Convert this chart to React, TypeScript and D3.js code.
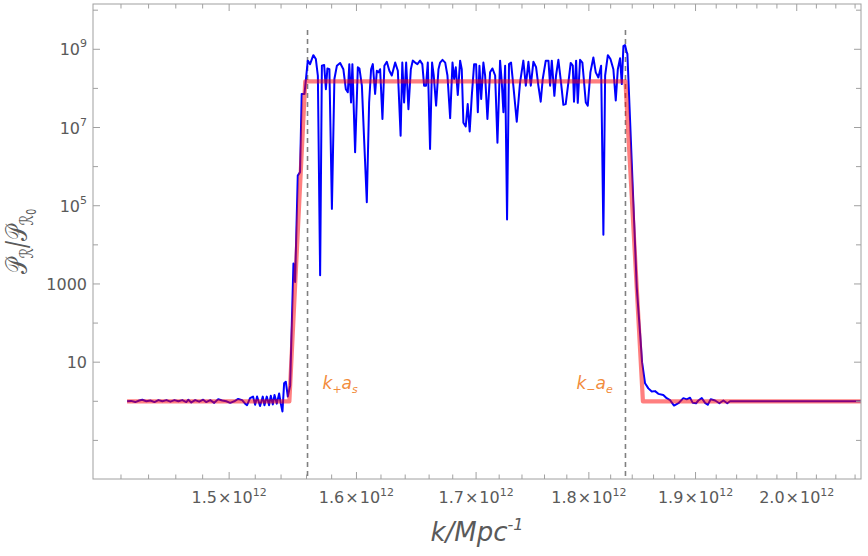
import React from "react";
import * as d3 from "d3";

const W = 868;
const H = 556;
const FRAME = { left: 93, right: 861, top: 4, bottom: 479 };

// k in units of 10^12 Mpc^-1
const kDomain12 = [1.4, 2.0662];
// log10 of P_R / P_R0
const logPDomain = [-1.987, 10.158];

const xMajor12 = [1.5, 1.6, 1.7, 1.8, 1.9, 2.0];
const xMinor12 = [1.42, 1.44, 1.46, 1.48, 1.52, 1.54, 1.56, 1.58, 1.62, 1.64, 1.66, 1.68, 1.72, 1.74, 1.76, 1.78, 1.82, 1.84, 1.86, 1.88, 1.92, 1.94, 1.96, 1.98, 2.02, 2.04, 2.06];
const yTickExp = [-1, 0, 1, 2, 3, 4, 5, 6, 7, 8, 9, 10];
const yLabelExp = [1, 3, 5, 7, 9];

const kPlusAs12 = 1.5608;
const kMinusAe12 = 1.8337;

const redK12 = [1.4244, 1.5465, 1.559, 1.8337, 1.85, 2.0662];
const redLogP = [0, 0, 8.18, 8.18, 0, 0];

const blueK12 = [
  1.4244, 1.4273, 1.4303, 1.4332, 1.4354, 1.4384, 1.4413, 1.4443, 1.4472, 1.4501,
  1.4531, 1.456, 1.459, 1.4619, 1.4648, 1.4678, 1.4693, 1.4715, 1.4744, 1.4774,
  1.4804, 1.4826, 1.4857, 1.4887, 1.4917, 1.4948, 1.4978, 1.5008, 1.5039, 1.5069,
  1.5099, 1.5122, 1.5137, 1.516, 1.5183, 1.5199, 1.5214, 1.5237, 1.5258, 1.5271,
  1.5289, 1.5307, 1.532, 1.5336, 1.5349, 1.5367, 1.5385, 1.5398, 1.5411, 1.5424,
  1.5437, 1.5453, 1.5471, 1.5497, 1.551, 1.5531, 1.5549, 1.5562, 1.5584, 1.561,
  1.5628, 1.5654, 1.5674, 1.569, 1.5708, 1.5722, 1.574, 1.5754, 1.5766, 1.5782,
  1.5802, 1.5822, 1.5842, 1.5868, 1.5894, 1.5914, 1.593, 1.5942, 1.5956, 1.5967,
  1.5989, 1.6011, 1.6024, 1.6044, 1.6062, 1.6084, 1.6103, 1.6119, 1.6133, 1.6152,
  1.6166, 1.6179, 1.6193, 1.6212, 1.6228, 1.6248, 1.6269, 1.6289, 1.6317, 1.6339,
  1.6362, 1.6376, 1.6391, 1.6408, 1.6427, 1.6447, 1.6463, 1.6483, 1.6502, 1.6524,
  1.6543, 1.6558, 1.6574, 1.6589, 1.6608, 1.6625, 1.6639, 1.6659, 1.6679, 1.6693,
  1.6713, 1.6736, 1.6755, 1.6778, 1.6798, 1.6812, 1.6826, 1.6843, 1.6863, 1.6877,
  1.6891, 1.6911, 1.6928, 1.6945, 1.6963, 1.6983, 1.7, 1.7015, 1.7029, 1.7044,
  1.7063, 1.7078, 1.7098, 1.7121, 1.7141, 1.7165, 1.7185, 1.7208, 1.7223, 1.7237,
  1.7252, 1.7269, 1.7286, 1.7304, 1.7324, 1.7354, 1.7383, 1.7412, 1.7434, 1.7457,
  1.7478, 1.7501, 1.7525, 1.7545, 1.7566, 1.7584, 1.7611, 1.7635, 1.765, 1.7665,
  1.7688, 1.7703, 1.7724, 1.7748, 1.7769, 1.779, 1.7814, 1.7835, 1.7854, 1.7865,
  1.7884, 1.7899, 1.792, 1.7941, 1.7972, 1.799, 1.8014, 1.8041, 1.8063, 1.8087,
  1.8112, 1.8133, 1.8149, 1.8174, 1.8198, 1.8225, 1.8247, 1.8266, 1.8287, 1.8303,
  1.8318, 1.8333, 1.8349, 1.8355, 1.838, 1.8411, 1.8442, 1.8473, 1.8492, 1.852,
  1.8551, 1.8583, 1.8614, 1.8645, 1.8692, 1.8724, 1.8756, 1.8794, 1.8836, 1.8883,
  1.8915, 1.8947, 1.8973, 1.9005, 1.9027, 1.906, 1.9092, 1.9118, 1.9147, 1.9189,
  1.9231, 1.927, 1.9308, 1.9335, 2.0662,
];

const blueLogP = [
  0.0, 0.01, -0.02, 0.02, 0.04, 0.0, 0.02, -0.02, 0.03, 0.0,
  0.03, -0.01, 0.03, 0.0, 0.03, -0.02, 0.04, -0.03, 0.03, -0.01,
  0.04, -0.02, 0.03, -0.04, 0.05, 0.02, 0.0, -0.04, 0.0, 0.06,
  0.03, -0.06, -0.1, 0.08, 0.12, -0.09, 0.12, -0.12, 0.12, -0.1,
  0.12, -0.1, 0.14, -0.08, 0.16, -0.06, 0.2, -0.06, -0.26, 0.46,
  0.5, 0.12, 0.4, 3.52, 3.05, 5.77, 5.86, 7.86, 7.86, 8.71,
  8.62, 8.85, 8.75, 8.32, 3.22, 8.58, 8.6, 7.98, 8.51, 8.49,
  4.92, 8.24, 8.58, 8.65, 8.49, 7.98, 7.9, 8.62, 7.64, 8.62,
  6.37, 8.54, 8.51, 8.07, 6.71, 5.09, 7.64, 8.49, 8.62, 7.86,
  8.45, 8.41, 8.49, 7.22, 8.58, 8.68, 8.45, 8.33, 8.66, 8.45,
  6.79, 8.66, 7.64, 8.66, 7.47, 8.49, 8.71, 8.66, 8.62, 8.71,
  8.62, 8.07, 8.07, 8.66, 6.45, 8.66, 8.33, 7.56, 8.49, 8.66,
  8.73, 8.66, 8.33, 7.24, 8.66, 8.24, 8.54, 7.83, 8.71, 8.49,
  7.12, 7.03, 7.6, 6.9, 7.81, 8.62, 8.62, 7.39, 8.58, 7.73,
  8.66, 8.33, 7.22, 8.41, 8.51, 8.33, 6.61, 8.71, 8.15, 7.39,
  8.58, 4.65, 8.62, 8.66, 8.07, 7.15, 8.15, 8.71, 8.07, 8.68,
  8.07, 8.68, 8.54, 8.07, 7.66, 8.24, 8.71, 8.71, 8.07, 8.71,
  7.81, 8.33, 8.73, 8.15, 7.58, 7.6, 8.15, 8.65, 8.58, 7.66,
  8.71, 7.63, 8.73, 8.66, 7.64, 7.56, 8.41, 8.79, 8.41, 8.28,
  8.58, 4.26, 8.33, 8.85, 8.75, 8.49, 7.69, 8.49, 8.77, 8.11,
  9.08, 9.11, 8.92, 8.88, 7.18, 5.05, 2.92, 1.75, 1.0, 0.46,
  0.33, 0.25, 0.26, 0.19, 0.16, 0.08, 0.03, -0.11, -0.05, 0.08,
  0.05, 0.09, -0.04, -0.05, 0.02, 0.08, -0.04, -0.09, 0.05, 0.02,
  -0.05, 0.02, -0.05, 0.0, 0.0,
];

const GREY_TEXT = "#5a5a5a";
const FRAME_COLOR = "#a0a0a0";
const ORANGE = "#f28c3c";
const FONT = "'DejaVu Sans', sans-serif";

export default function App() {
  const x = d3.scaleLog().domain(kDomain12).range([FRAME.left, FRAME.right]);
  const y = d3
    .scaleLog()
    .domain([Math.pow(10, logPDomain[0]), Math.pow(10, logPDomain[1])])
    .range([FRAME.bottom, FRAME.top]);

  const line = d3
    .line<[number, number]>()
    .x((d) => x(d[0]))
    .y((d) => y(Math.pow(10, d[1])));

  const blue: [number, number][] = blueK12.map((k, i) => [k, blueLogP[i]]);
  const red: [number, number][] = redK12.map((k, i) => [k, redLogP[i]]);

  const xp = x(kPlusAs12);
  const xm = x(kMinusAe12);

  return (
    <svg
      width={W}
      height={H}
      viewBox={`0 0 ${W} ${H}`}
      style={{ position: "fixed", left: 0, top: 0, background: "#fff" }}
    >
      <defs>
        <clipPath id="plot">
          <rect x={FRAME.left} y={FRAME.top} width={FRAME.right - FRAME.left} height={FRAME.bottom - FRAME.top} />
        </clipPath>
      </defs>
      <rect x={0} y={0} width={W} height={H} fill="#fff" />

      {/* dashed verticals */}
      {[xp, xm].map((xv, i) => (
        <line key={i} x1={xv} x2={xv} y1={30} y2={FRAME.bottom} stroke="#808080" strokeWidth={1.6} strokeDasharray="5,4" />
      ))}

      <g clipPath="url(#plot)">
        <path d={line(blue) || ""} fill="none" stroke="#0000ff" strokeWidth={2} strokeLinejoin="round" />
        <path d={line(red) || ""} fill="none" stroke="#ff0000" strokeOpacity={0.5} strokeWidth={4.2} strokeLinejoin="round" />
      </g>

      {/* frame */}
      <rect
        x={FRAME.left}
        y={FRAME.top}
        width={FRAME.right - FRAME.left}
        height={FRAME.bottom - FRAME.top}
        fill="none"
        stroke={FRAME_COLOR}
        strokeWidth={1}
      />

      {/* x ticks bottom & top */}
      {xMajor12.map((v) => (
        <g key={"xM" + v}>
          <line x1={x(v)} x2={x(v)} y1={FRAME.bottom} y2={FRAME.bottom - 7} stroke={FRAME_COLOR} />
          <line x1={x(v)} x2={x(v)} y1={FRAME.top} y2={FRAME.top + 7} stroke={FRAME_COLOR} />
          <text x={x(v)} y={503} textAnchor="middle" fontFamily={FONT} fontSize={16} fill={GREY_TEXT}>
            {v.toFixed(1)}
            <tspan dx={1}>×</tspan>
            <tspan dx={1}>10</tspan>
            <tspan dy={-7} fontSize={11}>12</tspan>
          </text>
        </g>
      ))}
      {xMinor12.map((v) => (
        <g key={"xm" + v}>
          <line x1={x(v)} x2={x(v)} y1={FRAME.bottom} y2={FRAME.bottom - 4.5} stroke={FRAME_COLOR} />
          <line x1={x(v)} x2={x(v)} y1={FRAME.top} y2={FRAME.top + 4.5} stroke={FRAME_COLOR} />
        </g>
      ))}

      {/* y ticks left & right */}
      {yTickExp.map((e) => {
        const yy = y(Math.pow(10, e));
        const labelled = yLabelExp.includes(e);
        const len = labelled ? 7 : 5;
        return (
          <g key={"y" + e}>
            <line x1={FRAME.left} x2={FRAME.left + len} y1={yy} y2={yy} stroke={FRAME_COLOR} />
            <line x1={FRAME.right} x2={FRAME.right - len} y1={yy} y2={yy} stroke={FRAME_COLOR} />
            {labelled && (
              <text x={87} y={yy + 6} textAnchor="end" fontFamily={FONT} fontSize={16} fill={GREY_TEXT}>
                {e === 1 ? "10" : e === 3 ? "1000" : (
                  <>
                    10
                    <tspan dy={-8} fontSize={11}>{String(e)}</tspan>
                  </>
                )}
              </text>
            )}
          </g>
        );
      })}

      {/* annotations */}
      <text x={xp + 15} y={389} fontFamily={FONT} fontStyle="italic" fontSize={17} fill={ORANGE}>
        k<tspan fontSize={11} dy={4}>+</tspan>
        <tspan dy={-4}>a</tspan>
        <tspan fontSize={11} dy={4}>s</tspan>
      </text>
      <text x={xm - 49} y={389} fontFamily={FONT} fontStyle="italic" fontSize={17} fill={ORANGE}>
        k<tspan fontSize={11} dy={4}>−</tspan>
        <tspan dy={-4}>a</tspan>
        <tspan fontSize={11} dy={4}>e</tspan>
      </text>

      {/* x title */}
      <text
        x={(FRAME.left + FRAME.right) / 2}
        y={541}
        textAnchor="middle"
        fontFamily={FONT}
        fontStyle="italic"
        fontSize={26}
        fill={GREY_TEXT}
      >
        k/Mpc<tspan dy={-11} fontSize={16}>-1</tspan>
      </text>

      {/* y title */}
      <g transform={`translate(27, ${(FRAME.top + FRAME.bottom) / 2}) rotate(-90) scale(0.78, 1.1)`}>
        <text textAnchor="middle" fontFamily={FONT} fontSize={27} fill={GREY_TEXT}>
          𝒫<tspan fontSize={17} dy={5}>ℛ</tspan>
          <tspan dy={-5}>/𝒫</tspan>
          <tspan fontSize={17} dy={5}>ℛ</tspan>
          <tspan fontSize={12} dy={3}>0</tspan>
        </text>
      </g>
    </svg>
  );
}
